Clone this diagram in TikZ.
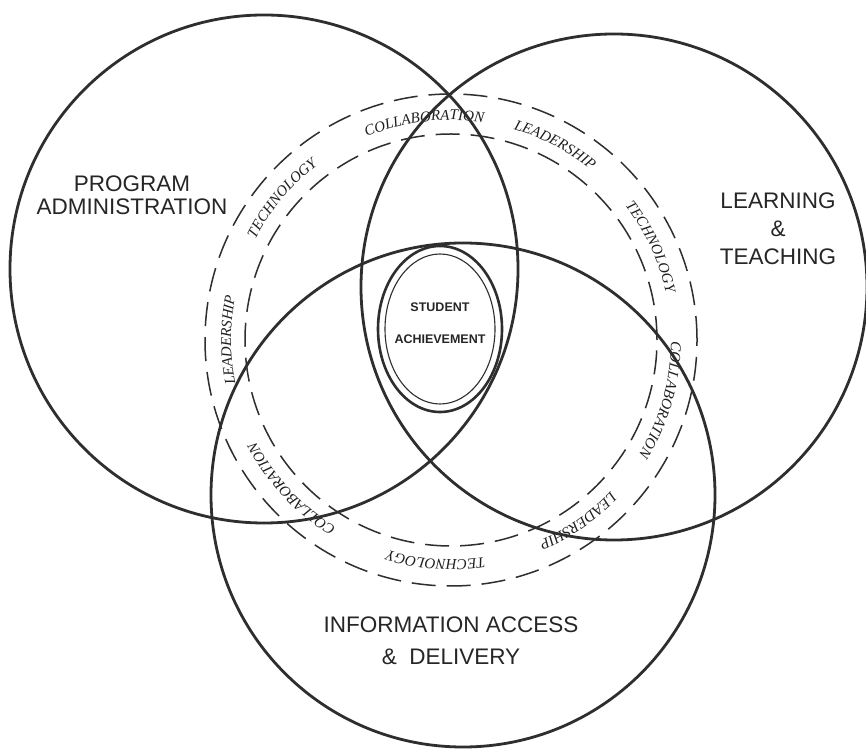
\documentclass[tikz,border=0pt]{standalone}
\usepackage{fontspec}
\newfontfamily\labelfont{Liberation Sans}
\newfontfamily\ringfam{Liberation Serif}
\usetikzlibrary{decorations.text}
\newcommand\ringfont{\ringfam\itshape\fontsize{15}{16}\selectfont}
\begin{document}
\begin{tikzpicture}[x=1pt,y=1pt,
  bigcircle/.style={draw=black!82, line width=2.8pt},
  ringline/.style={draw=black!82, line width=1.5pt, dash pattern=on 24pt off 11pt},
  mainlabel/.style={font=\labelfont\fontsize{22.5}{23}\selectfont, align=center, text=black!85, inner sep=0pt},
  smalllabel/.style={font=\labelfont\bfseries\fontsize{12.5}{32}\selectfont, align=center, text=black!85, inner sep=0pt},
  ringword/.style={font=\ringfont, decorate, decoration={text along path, text align=center, text color=black!88}}
]
\useasboundingbox (0,0) rectangle (866,749);
\fill[white] (0,0) rectangle (866,749);

\coordinate (cprog) at (264,480);
\coordinate (cteach) at (614,462);
\coordinate (cinfo) at (463,254);
\coordinate (ring) at (451,409);
\coordinate (cach) at (440,420);

% dashed ring
\draw[ringline] (ring) circle[radius=246];
\draw[ringline] (ring) circle[radius=206];

% ring words (clockwise)
\path[ringword, decoration={text={|\ringfont|COLLABORATION}}] (ring) ++(122:220) arc[start angle=122, end angle=72, radius=220];
\path[ringword, decoration={text={|\ringfont|LEADERSHIP}}] (ring) ++(87:220) arc[start angle=87, end angle=37, radius=220];
\path[ringword, decoration={text={|\ringfont|TECHNOLOGY}}] (ring) ++(50:220) arc[start angle=50, end angle=0, radius=220];
\path[ringword, decoration={text={|\ringfont|COLLABORATION}}] (ring) ++(9:220) arc[start angle=9, end angle=-41, radius=220];
\path[ringword, decoration={text={|\ringfont|LEADERSHIP}}] (ring) ++(-30:220) arc[start angle=-30, end angle=-80, radius=220];
\path[ringword, decoration={text={|\ringfont|TECHNOLOGY}}] (ring) ++(-69:220) arc[start angle=-69, end angle=-119, radius=220];
\path[ringword, decoration={text={|\ringfont|COLLABORATION}}] (ring) ++(-112:220) arc[start angle=-112, end angle=-162, radius=220];
\path[ringword, decoration={text={|\ringfont|LEADERSHIP}}] (ring) ++(205:220) arc[start angle=205, end angle=155, radius=220];
\path[ringword, decoration={text={|\ringfont|TECHNOLOGY}}] (ring) ++(165:220) arc[start angle=165, end angle=115, radius=220];

% three big circles
\draw[bigcircle] (cprog) circle[radius=254];
\draw[bigcircle] (cteach) circle[radius=253];
\draw[bigcircle] (cinfo) circle[radius=252];

% student achievement
\draw[draw=black!82, line width=2.6pt] (cach) ellipse[x radius=62, y radius=83];
\draw[draw=black!82, line width=1.1pt] (cach) ellipse[x radius=55, y radius=75];

\node[smalllabel] (ach) at (440,425.5) {STUDENT\\ACHIEVEMENT};
\node[mainlabel] (prog) at (132,554) {PROGRAM\\ADMINISTRATION};
\node[mainlabel, font=\labelfont\fontsize{22.5}{28}\selectfont] (teach) at (778,520.5) {LEARNING\\\&\\TEACHING};
\node[mainlabel, font=\labelfont\fontsize{22.5}{32}\selectfont] (info) at (451,108) {INFORMATION ACCESS\\\&\ \ DELIVERY};
\end{tikzpicture}
\end{document}
